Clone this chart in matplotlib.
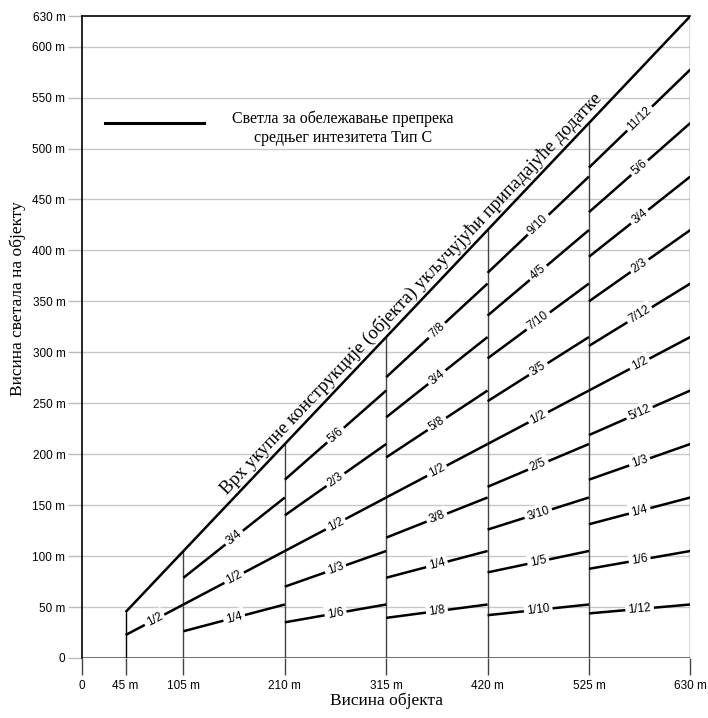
from fractions import Fraction
import matplotlib
matplotlib.use("Agg")
import matplotlib.pyplot as plt
import numpy as np

# Висине објекта (преломне тачке) и ознаке светала по сегменту
x_breaks = [45, 105, 210, 315, 420, 525, 630]
segment_labels = [
    ["1/2"],
    ["1/4", "1/2", "3/4"],
    ["1/6", "1/3", "1/2", "2/3", "5/6"],
    ["1/8", "1/4", "3/8", "1/2", "5/8", "3/4", "7/8"],
    ["1/10", "1/5", "3/10", "2/5", "1/2", "3/5", "7/10", "4/5", "9/10"],
    ["1/12", "1/6", "1/4", "1/3", "5/12", "1/2", "7/12", "2/3", "3/4", "5/6", "11/12"],
]
x_ticks = [0, 45, 105, 210, 315, 420, 525, 630]
x_ticklabels = ["0", "45 m", "105 m", "210 m", "315 m", "420 m", "525 m", "630 m"]
y_ticks = [0, 50, 100, 150, 200, 250, 300, 350, 400, 450, 500, 550, 600, 630]
y_ticklabels = ["0"] + [f"{v} m" for v in y_ticks[1:]]

narrow = ["Liberation Sans Narrow", "Liberation Sans", "DejaVu Sans"]
serif = ["Liberation Serif", "DejaVu Serif"]

fig = plt.figure(figsize=(7.08, 7.18), dpi=100)
ax = fig.add_axes([0.116, 0.0836, 0.859, 0.894])
ax.set_xlim(0, 630)
ax.set_ylim(0, 630)

# мрежа
for v in y_ticks[1:-1]:
    ax.axhline(v, color="#c8c8c8", lw=1.0, zorder=1)
ax.axhline(0, color="#555555", lw=1.2, zorder=2)

# вертикалне линије
ax.vlines(x_breaks[0], 0, x_breaks[0], color="black", lw=1.0, zorder=3)
for xb in x_breaks[1:]:
    ax.vlines(xb, 0, xb, color="#444444", lw=1.0, zorder=3)

# врх конструкције
top_x = np.array([x_breaks[0], x_breaks[-1]])
ax.plot(top_x, top_x, color="black", lw=1.8, zorder=4, solid_capstyle="butt")

# светла
for i, labels in enumerate(segment_labels):
    x0, x1 = x_breaks[i], x_breaks[i + 1]
    xm = (x0 + x1) / 2
    for lab in labels:
        f = float(Fraction(lab))
        ax.plot([x0, x1], [f * x0, f * x1], color="black", lw=1.8, zorder=4,
                solid_capstyle="butt")
        ax.text(xm, f * xm, lab, rotation=np.degrees(np.arctan(f)),
                transform_rotates_text=True, rotation_mode="anchor",
                ha="center", va="center", fontsize=8.5, family=narrow, zorder=5,
                bbox=dict(facecolor="white", edgecolor="none", pad=2.0))

ax.text(341, 358, "Врх укупне конструкције (објекта) укључујући припадајуће додатке",
        rotation=45, transform_rotates_text=True, rotation_mode="anchor",
        ha="center", va="center", fontsize=13.5, family=serif, zorder=5)

# легенда
ax.plot([24, 126], [525, 525], color="black", lw=2.2, zorder=4)
ax.text(270, 520, "Светла за обележавање препрека\nсредњег интезитета Тип С",
        ha="center", va="center", fontsize=11.5, family=serif, linespacing=1.2,
        zorder=5)

ax.set_xticks(x_ticks)
ax.set_xticklabels(x_ticklabels, family=narrow, fontsize=8.5)
ax.set_yticks(y_ticks)
ax.set_yticklabels(y_ticklabels, family=narrow, fontsize=8.5)
ax.tick_params(axis="x", length=12, width=1, color="#444444", pad=4)
ax.tick_params(axis="y", length=10, width=1, color="#bbbbbb", pad=2)
ax.yaxis.get_major_ticks()[-1].tick1line.set_color("black")
ax.yaxis.get_major_ticks()[0].tick1line.set_color("#555555")

for s in ["bottom", "right"]:
    ax.spines[s].set_visible(False)
ax.spines["left"].set_linewidth(1.2)
ax.spines["top"].set_linewidth(1.2)

ax.set_xlabel("Висина објекта", family=serif, fontsize=12.5, labelpad=0)
ax.set_ylabel("Висина светала на објекту", family=serif, fontsize=12.5)
ax.yaxis.set_label_coords(-0.093, 0.56)

fig.savefig("out.png", dpi=100)
